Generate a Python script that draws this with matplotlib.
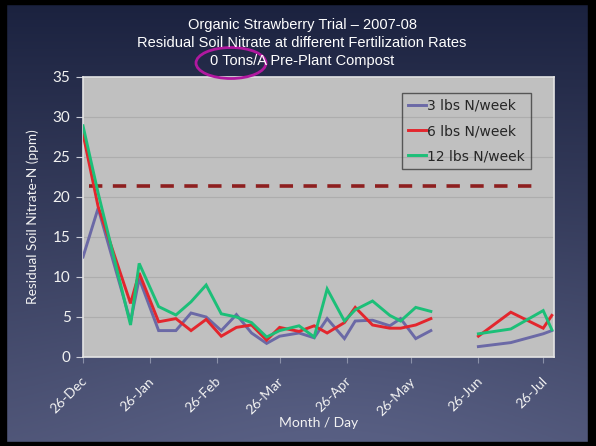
"""
plot.py

Residual soil nitrate under three fertilization rates (organic strawberry
trial, 2007-08, no pre-plant compost), redrawn as a slide-style chart.
"""

import matplotlib

matplotlib.use("Agg")
import matplotlib.dates as mdates
import matplotlib.pyplot as plt
import matplotlib.transforms as mtransforms
import numpy as np
import pandas as pd
from matplotlib.patches import Ellipse, Rectangle

# --- data (ppm); NaN marks the June sampling gap ---
sample_dates = [
    "2007-12-26", "2008-01-02", "2008-01-17", "2008-01-21", "2008-01-30",
    "2008-02-07", "2008-02-14", "2008-02-21", "2008-02-28", "2008-03-06",
    "2008-03-13", "2008-03-20", "2008-03-26", "2008-04-04", "2008-04-11",
    "2008-04-17", "2008-04-25", "2008-04-30", "2008-05-08", "2008-05-16",
    "2008-05-21", "2008-05-28", "2008-06-04", "2008-06-15", "2008-06-26",
    "2008-07-11", "2008-07-26", "2008-07-30",
]
nan = np.nan
n3_week = [
    12.5, 18.6, 4.4, 9.8, 3.3, 3.3, 5.5, 5.0, 3.3, 5.3,
    3.0, 1.7, 2.6, 3.0, 2.4, 4.8, 2.3, 4.5, 4.6, 3.9,
    4.8, 2.3, 3.3, nan, 1.3, 1.8, 2.9, 3.3,
]
n6_week = [
    27.9, 18.8, 6.7, 10.5, 4.4, 4.8, 3.3, 4.7, 2.6, 3.7,
    4.0, 2.1, 3.7, 3.2, 3.9, 3.0, 4.3, 6.2, 4.0, 3.6,
    3.6, 4.0, 4.8, nan, 2.6, 5.6, 3.6, 5.2,
]
n12_week = [
    28.9, 20.5, 4.0, 11.7, 6.3, 5.25, 6.9, 9.0, 5.4, 5.0,
    4.3, 2.5, 3.3, 3.9, 2.5, 8.5, 4.5, 5.9, 7.0, 5.2,
    4.5, 6.2, 5.7, nan, 2.9, 3.5, 5.8, 3.4,
]
series_labels = ["3 lbs N/week", "6 lbs N/week", "12 lbs N/week"]
series_colors = ["#6b69a6", "#e3262d", "#1cbf78"]

threshold_dates = ["2007-12-29", "2008-07-25"]
threshold_value = 21.4

tick_dates = [
    "2007-12-26", "2008-01-26", "2008-02-26", "2008-03-26",
    "2008-04-26", "2008-05-26", "2008-06-26", "2008-07-26",
]
x_limits = ["2007-12-26", "2008-07-31"]

title_lines = [
    "Organic Strawberry Trial \u2013 2007-08",
    "Residual Soil Nitrate at different Fertilization Rates",
    "0 Tons/A Pre-Plant Compost",
]

W, H = 596, 446


def draw_background(fig):
    bg = fig.add_axes([0, 0, 1, 1], zorder=-10)
    bg.set_axis_off()
    yy, xx = np.mgrid[0:1:200j, 0:1:300j]
    top = np.array([26, 33, 62]) / 255.0
    bottom = np.array([78, 84, 118]) / 255.0
    t = yy ** 0.9
    glow = np.exp(-(((xx - 0.55) / 0.45) ** 2 + ((yy - 1.0) / 0.45) ** 2)) * 0.12
    img = top + (bottom - top) * t[..., None]
    img = np.clip(img + glow[..., None] * np.array([0.35, 0.38, 0.45]), 0, 1)
    bg.imshow(img, aspect="auto", extent=[0, 1, 0, 1], origin="upper")
    bg.set_xlim(0, 1)
    bg.set_ylim(0, 1)
    # black slide frame
    for x0, y0, w, h in [(0, 0, 6, H), (W - 8, 0, 8, H), (0, 0, W, 4), (0, H - 4, W, 4)]:
        bg.add_patch(Rectangle((x0 / W, 1 - (y0 + h) / H), w / W, h / H,
                               color="black", transform=bg.transAxes, zorder=5))


def main():
    dates = pd.to_datetime(sample_dates)

    fig = plt.figure(figsize=(W / 100, H / 100), dpi=100)
    draw_background(fig)

    ax = fig.add_axes([83 / W, 1 - 357 / H, 471 / W, 280 / H])
    ax.set_facecolor("#c0c0c0")

    for values, label, color in zip([n3_week, n6_week, n12_week], series_labels, series_colors):
        ax.plot(dates, values, color=color, lw=2.1, label=label, solid_joinstyle="miter", zorder=3)

    ax.plot(pd.to_datetime(threshold_dates), [threshold_value] * 2, color="#8e1f1f",
            lw=2.6, dashes=(3.7, 2.9), zorder=2)

    ax.set_ylim(0, 35)
    ax.set_yticks(np.arange(0, 36, 5))
    ax.set_xlim(pd.to_datetime(x_limits))
    ax.set_xticks(pd.to_datetime(tick_dates))
    ax.xaxis.set_major_formatter(mdates.DateFormatter("%d-%b"))

    ax.grid(axis="y", color="#adadad", lw=0.8)
    ax.set_axisbelow(True)
    for spine in ax.spines.values():
        spine.set_color("#e4e4e4")
        spine.set_linewidth(1.2)

    ax.tick_params(axis="y", colors="#c8cbd6", labelcolor="#f2f2f2", length=5,
                   labelsize=11, pad=4)
    ax.tick_params(axis="x", colors="#8a90a8", labelcolor="#f2f2f2", length=4,
                   labelsize=10, pad=12)
    shift = mtransforms.ScaledTranslation(2 / 100, 0, fig.dpi_scale_trans)
    for lab in ax.get_xticklabels():
        lab.set_rotation(45)
        lab.set_ha("right")
        lab.set_va("center")
        lab.set_rotation_mode("anchor")
        lab.set_transform(lab.get_transform() + shift)
    for lab in ax.get_xticklabels() + ax.get_yticklabels():
        lab.set_family("Lato")

    ax.set_ylabel("Residual Soil Nitrate-N (ppm)", color="#f2f2f2", fontsize=9.8, family="Lato")
    ax.yaxis.set_label_coords(-0.093, 0.5)
    ax.set_xlabel("Month / Day", color="#f2f2f2", fontsize=10, family="Lato")
    ax.xaxis.set_label_coords(0.5, -0.215)

    leg = ax.legend(loc="upper left", bbox_to_anchor=(0.677, 0.944), borderaxespad=0,
                    fancybox=False, frameon=True, handlelength=1.3, handletextpad=0.05,
                    labelspacing=0.8, borderpad=0.45, prop={"family": "DejaVu Sans", "size": 10})
    leg.get_frame().set_facecolor("none")
    leg.get_frame().set_edgecolor("#3c3c3c")
    leg.get_frame().set_linewidth(1.0)
    for txt in leg.get_texts():
        txt.set_color("#262626")

    for i, line in enumerate(title_lines):
        fig.text(302 / W, 1 - (24.5 + 18.5 * i) / H, line, ha="center", va="center",
                 color="white", fontsize=10.5, family="Liberation Sans")

    fig.add_artist(Ellipse((231 / W, 1 - 63 / H), 70 / W, 31 / H, transform=fig.transFigure,
                           fill=False, edgecolor="#b0189f", lw=2))

    fig.savefig("out.png", dpi=100)
    plt.close(fig)


if __name__ == "__main__":
    main()
